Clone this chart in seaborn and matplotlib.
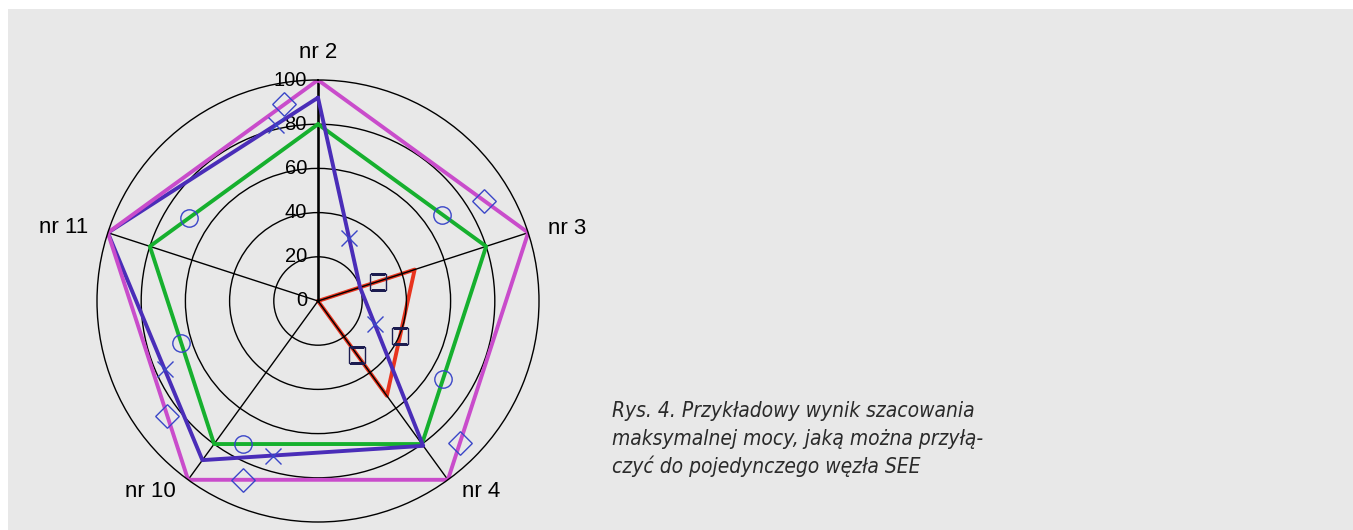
import numpy as np
import pandas as pd
import matplotlib
matplotlib.use("Agg")
import matplotlib.pyplot as plt
from matplotlib.patches import Rectangle
import seaborn as sns

# ---------------- data ----------------
axis_labels = ["nr 2", "nr 3", "nr 4", "nr 10", "nr 11"]
r_ticks = [0, 20, 40, 60, 80, 100]
magenta_vals = [100, 100, 100, 100, 100]
green_vals = [80, 80, 80, 80, 80]
purple_vals = [92, 20, 81, 89, 100]
red_vals = [0, 46, 53, 0, 0]
caption_lines = [
    "Rys. 4. Przykładowy wynik szacowania",
    "maksymalnej mocy, jaką można przyłą-",
    "czyć do pojedynczego węzła SEE",
]

# ---------------- style ----------------
W, H = 1353, 530
cx, cy, R = 318, 301, 221
BLUE_M = "#3a46c8"
series_styles = [
    dict(vals=red_vals, color="#e8341e", marker="s", mcolor="#1c1c50", ms=11,
         frac=[0.62, 0.53, 0.43, 0.5, 0.5], z=1.2),
    dict(vals=green_vals, color="#16b02e", marker="o", mcolor=BLUE_M, ms=12.5,
         frac=[0.74, 0.67, 0.86, 0.51, 0.23], z=2.2),
    dict(vals=purple_vals, color="#4a2db8", marker="x", mcolor=BLUE_M, ms=11,
         frac=[0.74, 0.23, 0.68, 0.40, 0.80], z=2.3),
    dict(vals=magenta_vals, color="#c94ccb", marker=(4, 0, 0), mcolor=BLUE_M, ms=17,
         frac=[0.79, 0.85, 0.79, 0.26, 0.84], z=2.4),
]
label_offsets = [((0, 27), "center"), ((20, 4), "left"), ((14, -12), "left"),
                 ((-12, -12), "right"), ((-20, 5), "right")]

sns.set_theme(style="white")
plt.rcParams["font.family"] = ["Liberation Sans", "DejaVu Sans"]

fig = plt.figure(figsize=(W / 100, H / 100), dpi=100, facecolor="white")
fig.add_artist(Rectangle((8 / W, 0), 1, (H - 9) / H, transform=fig.transFigure,
                         facecolor="#e8e8e8", edgecolor="none", zorder=-10))

ax = fig.add_axes([(cx - R) / W, (H - cy - R) / H, 2 * R / W, 2 * R / H],
                  projection="polar")
ax.patch.set_alpha(0)
ax.set_theta_zero_location("N")
ax.set_theta_direction(-1)
ax.set_ylim(0, 100)
ax.spines["polar"].set_visible(True)
ax.spines["polar"].set_color("black")
ax.spines["polar"].set_linewidth(1.0)
n = len(axis_labels)
angles_deg = np.arange(n) * 360 / n
theta = np.deg2rad(angles_deg)
ax.set_thetagrids(angles_deg, labels=[""] * n)
ax.set_rgrids(r_ticks[1:-1], labels=[""] * (len(r_ticks) - 2))
ax.set_axisbelow("line")
ax.grid(True, color="black", linewidth=1.0)
ax.axvline(0, color="black", lw=1.8, zorder=1.6)

for v in r_ticks:
    ax.annotate(str(v), xy=(0, v), xytext=(-11, 0), textcoords="offset pixels",
                ha="right", va="center", fontsize=14.5, color="black", zorder=1)

for lab, th, (off, ha) in zip(axis_labels, theta, label_offsets):
    ax.annotate(lab, xy=(th, 100), xytext=off, textcoords="offset pixels",
                ha=ha, va="center", fontsize=16, color="black")

theta_closed = np.append(theta, 2 * np.pi)
for st in series_styles:
    vals = np.asarray(st["vals"], dtype=float)
    df = pd.DataFrame({"theta": theta_closed, "r": np.append(vals, vals[0])})
    sns.lineplot(data=df, x="theta", y="r", sort=False, color=st["color"],
                 lw=2.8, ax=ax, zorder=st["z"], legend=False)
    # markers placed along each straight edge
    xs = vals * np.sin(theta)
    ys = vals * np.cos(theta)
    for i in range(n):
        j = (i + 1) % n
        if np.hypot(xs[j] - xs[i], ys[j] - ys[i]) < 1e-9:
            continue
        f = st["frac"][i]
        px = xs[i] + f * (xs[j] - xs[i])
        py = ys[i] + f * (ys[j] - ys[i])
        ax.plot([np.arctan2(px, py)], [np.hypot(px, py)], linestyle="none",
                marker=st["marker"], ms=st["ms"], mfc="none",
                mec=st["mcolor"], mew=1.0, zorder=3)

ax.set_xlabel("")
ax.set_ylabel("")

base_y = [417, 445, 473]
for line, by in zip(caption_lines, base_y):
    fig.text(612 / W, 1 - by / H, line, va="baseline", ha="left", fontsize=15,
             style="italic", family=["Liberation Sans Narrow", "DejaVu Sans"],
             fontstretch="condensed", color="#2a2a2a")

fig.savefig("out.png", dpi=100, facecolor=fig.get_facecolor())
